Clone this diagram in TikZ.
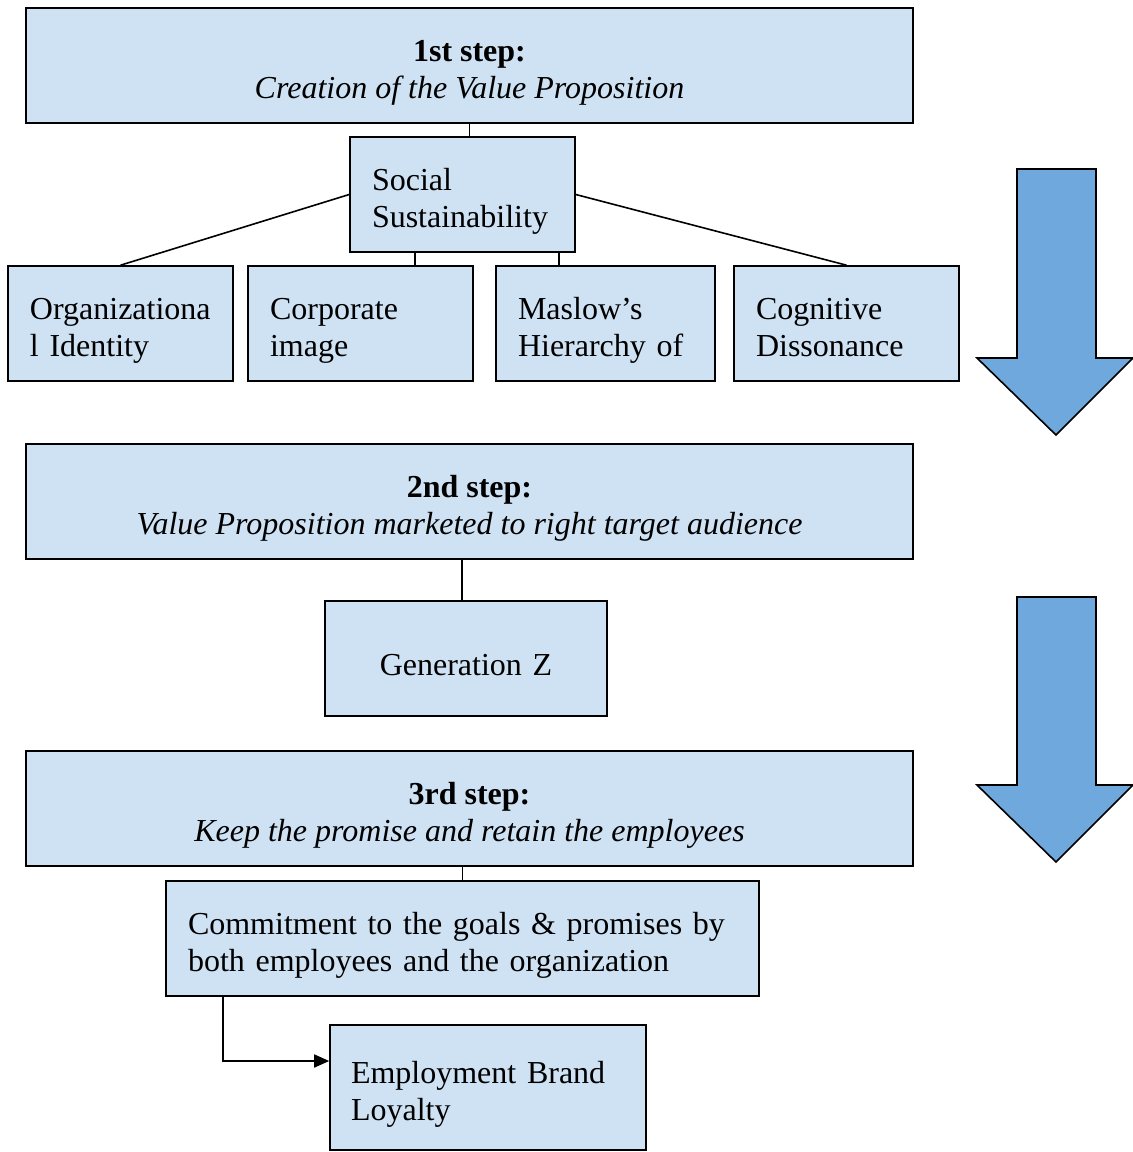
\documentclass[tikz,border=0pt]{standalone}
\usepackage{fontspec}
\setmainfont{Liberation Serif}
\usepackage{tikz}
\usetikzlibrary{arrows.meta}
\definecolor{boxblue}{RGB}{207,226,243}
\definecolor{arrowblue}{RGB}{111,168,220}
\newcommand{\topgap}{\rule{0pt}{35pt}}
\newcommand{\lowgap}{\rule[-7pt]{0pt}{7pt}}
\tikzstyle{stepbox} = [rectangle, minimum width=887pt, minimum height=115pt, align=center, draw=black, fill=boxblue]
\tikzstyle{arrow} = [line width=1.6pt,-{Triangle[length=15pt,width=13pt]}]
\tikzset{
  topic/.style={
    rectangle,
    minimum height=115pt,
    text width=181pt,
    inner xsep=22pt,
    align=left,
    draw=black,
    fill=boxblue
    },
  link/.style={line width=1.6pt},
  bigarrow/.style={
    line width=1.6pt,
    line join=miter,
    draw=black,
    fill=arrowblue
    },
}

\begin{document}
\begin{tikzpicture}[
  x=1pt, y=-1pt,
  every node/.style={font=\fontsize{32}{37}\selectfont, line width=1.6pt}
  ]
\useasboundingbox (0,0) rectangle (1133,1152);

\node (step1) [stepbox] at (469.5,65.5) {\topgap\textbf{1st step:}\\\textit{Creation of the Value Proposition}};
\node (social) [topic] at (462.5,194.5) {\topgap Social\\Sustainability};
\node (orgid) [topic] at (120.5,323.5) {\topgap Organizationa\\l Identity};
\node (corpimg) [topic] at (360.5,323.5) {\topgap Corporate\\image};
\node (maslow) [topic, text width=175pt] at (605.5,323.5) {\topgap Maslow’s\\Hierarchy of};
\node (cogdis) [topic] at (846.5,323.5) {\topgap Cognitive\\Dissonance\lowgap};

\node (step2) [stepbox] at (469.5,501.5) {\topgap\textbf{2nd step:}\\\textit{Value Proposition marketed to right target audience}};
\node (genz) [topic, text width=238pt, align=center] at (466,658.5) {\topgap Generation Z};

\node (step3) [stepbox] at (469.5,808.5) {\topgap\textbf{3rd step:}\\\textit{Keep the promise and retain the employees}};
\node (commit) [topic, text width=549pt] at (462.5,938.5) {\topgap Commitment to the goals \& promises by\\both employees and the organization};
\node (loyalty) [topic, text width=274pt, minimum height=125pt, inner xsep=21pt] at (488,1087.5) {\topgap Employment Brand\\Loyalty};

\draw [link] (step1.south) -- (step1.south |- social.north);
\draw [link] (social.west) -- (orgid.north);
\draw [link] (social.east) -- (cogdis.north);
\draw [link] ([xshift=-47.5pt]social.south) -- ([xshift=-47.5pt]social.south |- corpimg.north);
\draw [link] ([xshift=96.5pt]social.south) -- ([xshift=96.5pt]social.south |- maslow.north);
\draw [link] ([xshift=-4pt]genz.north) -- ([xshift=-4pt]genz.north |- step2.south);
\draw [link] (commit.north) -- (commit.north |- step3.south);
\draw [arrow] ([xshift=-239.5pt]commit.south) |- ([yshift=26.5pt]loyalty.west);

% big arrows on the right
\draw [bigarrow] (1017,169) -- (1096,169) -- (1096,358) -- (1133,358) -- (1056,435) -- (977,358) -- (1017,358) -- cycle;
\draw [bigarrow] (1017,597) -- (1096,597) -- (1096,785) -- (1133,785) -- (1056,862) -- (977,785) -- (1017,785) -- cycle;

\end{tikzpicture}
\end{document}
